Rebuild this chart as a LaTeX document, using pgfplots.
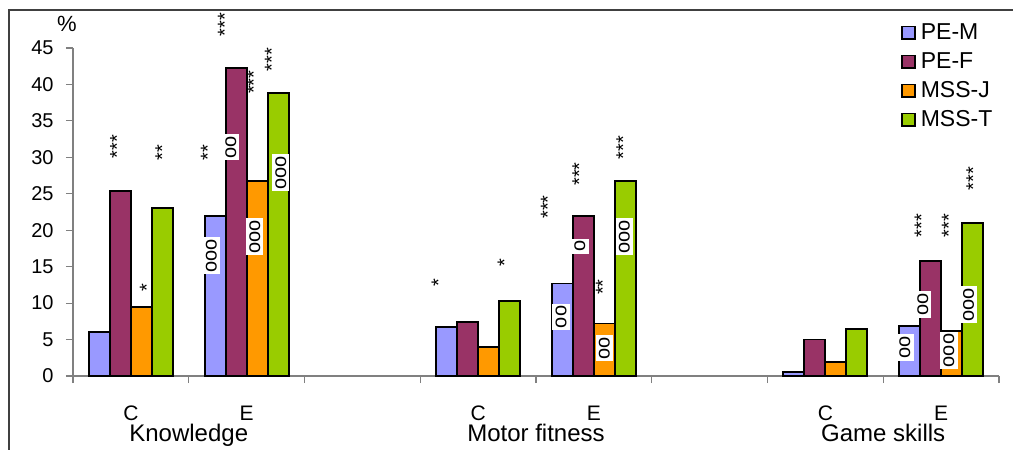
\documentclass[border=0pt]{standalone}
\usepackage{fontspec}
\setmainfont{Liberation Sans}
\usepackage{pgfplots}
\pgfplotsset{compat=1.18}
\definecolor{cPEM}{HTML}{9999FF}
\definecolor{cPEF}{HTML}{993366}
\definecolor{cMSJ}{HTML}{FF9900}
\definecolor{cMST}{HTML}{99CC00}
\tikzset{
  stars/.style={rotate=90, font=\fontsize{10}{12}\selectfont, inner sep=0pt},
  circ/.style={rotate=90, fill=white, font=\fontsize{10}{12}\selectfont, inner xsep=1pt, inner ysep=1.6pt},
}
\begin{document}
\begin{tikzpicture}
\useasboundingbox (0,0) rectangle (506.5pt,225pt);
\draw[line width=1pt, color=black!75] (4.3pt,0) -- (4.3pt,220pt) -- (506.5pt,220pt);
\begin{axis}[
  at={(36.5pt,37pt)}, anchor=south west,
  scale only axis, width=463pt, height=164pt,
  xmin=-0.5, xmax=7.5, ymin=0, ymax=45,
  axis x line*=bottom, axis y line*=left,
  axis line style={-, draw=gray, line width=0.6pt},
  ytick={0,5,...,45},
  xtick={-0.5,0.5,...,7.5}, xticklabels={},
  tick align=outside, major tick length=3.5pt,
  tick style={gray, line width=0.6pt},
  yticklabel style={font=\fontsize{10}{12}\selectfont, anchor=east, inner sep=0pt, xshift=-6pt},
  /pgf/number format/assume math mode=true,
  clip=false,
  ybar=0pt, bar width=10.5pt,
  legend image code/.code={\draw[#1, draw=black, line width=0.8pt] (0pt,-3.2pt) rectangle (6.4pt,3.2pt);},
  legend style={at={(0.894,1.092)}, anchor=north west, draw=none, fill=none,
    font=\fontsize{11.5}{13}\selectfont, row sep=0pt, inner sep=0pt,
    nodes={text height=8.5pt, text depth=2pt, inner ysep=2pt, inner xsep=2.6pt}},
  legend cell align=left,
]
\addplot[fill=cPEM, draw=black, line width=0.9pt, bar shift=-15.75pt] coordinates {(0,6) (1,22) (3,6.7) (4,12.7) (6,0.5) (7,6.9)};
\addlegendentry{PE-M}
\addplot[fill=cPEF, draw=black, line width=0.9pt, bar shift=-5.25pt] coordinates {(0,25.4) (1,42.3) (3,7.4) (4,22) (6,5) (7,15.8)};
\addlegendentry{PE-F}
\addplot[fill=cMSJ, draw=black, line width=0.9pt, bar shift=5.25pt] coordinates {(0,9.5) (1,26.8) (3,4) (4,7.2) (6,1.9) (7,6.2)};
\addlegendentry{MSS-J}
\addplot[fill=cMST, draw=black, line width=0.9pt, bar shift=15.75pt] coordinates {(0,23) (1,38.8) (3,10.3) (4,26.8) (6,6.4) (7,21)};
\addlegendentry{MSS-T}

% category labels
\node[anchor=base, font=\fontsize{10.5}{12}\selectfont] at (axis cs:0,0) [yshift=-22pt] {C};
\node[anchor=base, font=\fontsize{10.5}{12}\selectfont] at (axis cs:1,0) [yshift=-22pt] {E};
\node[anchor=base, font=\fontsize{10.5}{12}\selectfont] at (axis cs:3,0) [yshift=-22pt] {C};
\node[anchor=base, font=\fontsize{10.5}{12}\selectfont] at (axis cs:4,0) [yshift=-22pt] {E};
\node[anchor=base, font=\fontsize{10.5}{12}\selectfont] at (axis cs:6,0) [yshift=-22pt] {C};
\node[anchor=base, font=\fontsize{10.5}{12}\selectfont] at (axis cs:7,0) [yshift=-22pt] {E};
\node[anchor=base, font=\fontsize{12}{14}\selectfont] at (axis cs:0.5,0) [yshift=-32.8pt] {Knowledge};
\node[anchor=base, font=\fontsize{12}{14}\selectfont] at (axis cs:3.5,0) [yshift=-32.8pt] {Motor fitness};
\node[anchor=base, font=\fontsize{12}{14}\selectfont] at (axis cs:6.5,0) [yshift=-32.8pt] {Game skills};
\node[font=\fontsize{11}{13}\selectfont] at (axis cs:-0.5,45) [xshift=-3pt, yshift=12pt] {\%};

% significance stars
\node[stars] at (axis cs:-0.12,31.5) {***};
\node[stars] at (axis cs:0.138,12.1) {*};
\node[stars] at (axis cs:0.27,30.7) {**};
\node[stars] at (axis cs:0.665,30.7) {**};
\node[stars] at (axis cs:0.811,48.2) {***};
\node[stars] at (axis cs:1.062,40.3) {***};
\node[stars] at (axis cs:1.217,43.4) {***};
\node[stars] at (axis cs:2.658,12.8) {*};
\node[stars] at (axis cs:3.227,15.6) {*};
\node[stars] at (axis cs:3.601,23.2) {***};
\node[stars] at (axis cs:3.874,27.7) {***};
\node[stars] at (axis cs:4.076,12.2) {**};
\node[stars] at (axis cs:4.254,31.3) {***};
\node[stars] at (axis cs:6.831,20.6) {***};
\node[stars] at (axis cs:7.067,20.6) {***};
\node[stars] at (axis cs:7.277,27.1) {***};
% circle labels
\node[circ] at (axis cs:0.695,16.5) {ooo};
\node[circ] at (axis cs:0.863,31.4) {oo};
\node[circ] at (axis cs:1.07,19.1) {ooo};
\node[circ] at (axis cs:1.295,27.9) {ooo};
\node[circ] at (axis cs:3.717,8.1) {oo};
\node[circ] at (axis cs:3.879,17.8) {o};
\node[circ] at (axis cs:4.09,3.8) {oo};
\node[circ] at (axis cs:4.263,19.1) {ooo};
\node[circ] at (axis cs:6.687,3.9) {oo};
\node[circ] at (axis cs:6.842,9.8) {oo};
\node[circ] at (axis cs:7.067,3.5) {ooo};
\node[circ] at (axis cs:7.237,9.8) {ooo};
\end{axis}
\end{tikzpicture}
\end{document}
